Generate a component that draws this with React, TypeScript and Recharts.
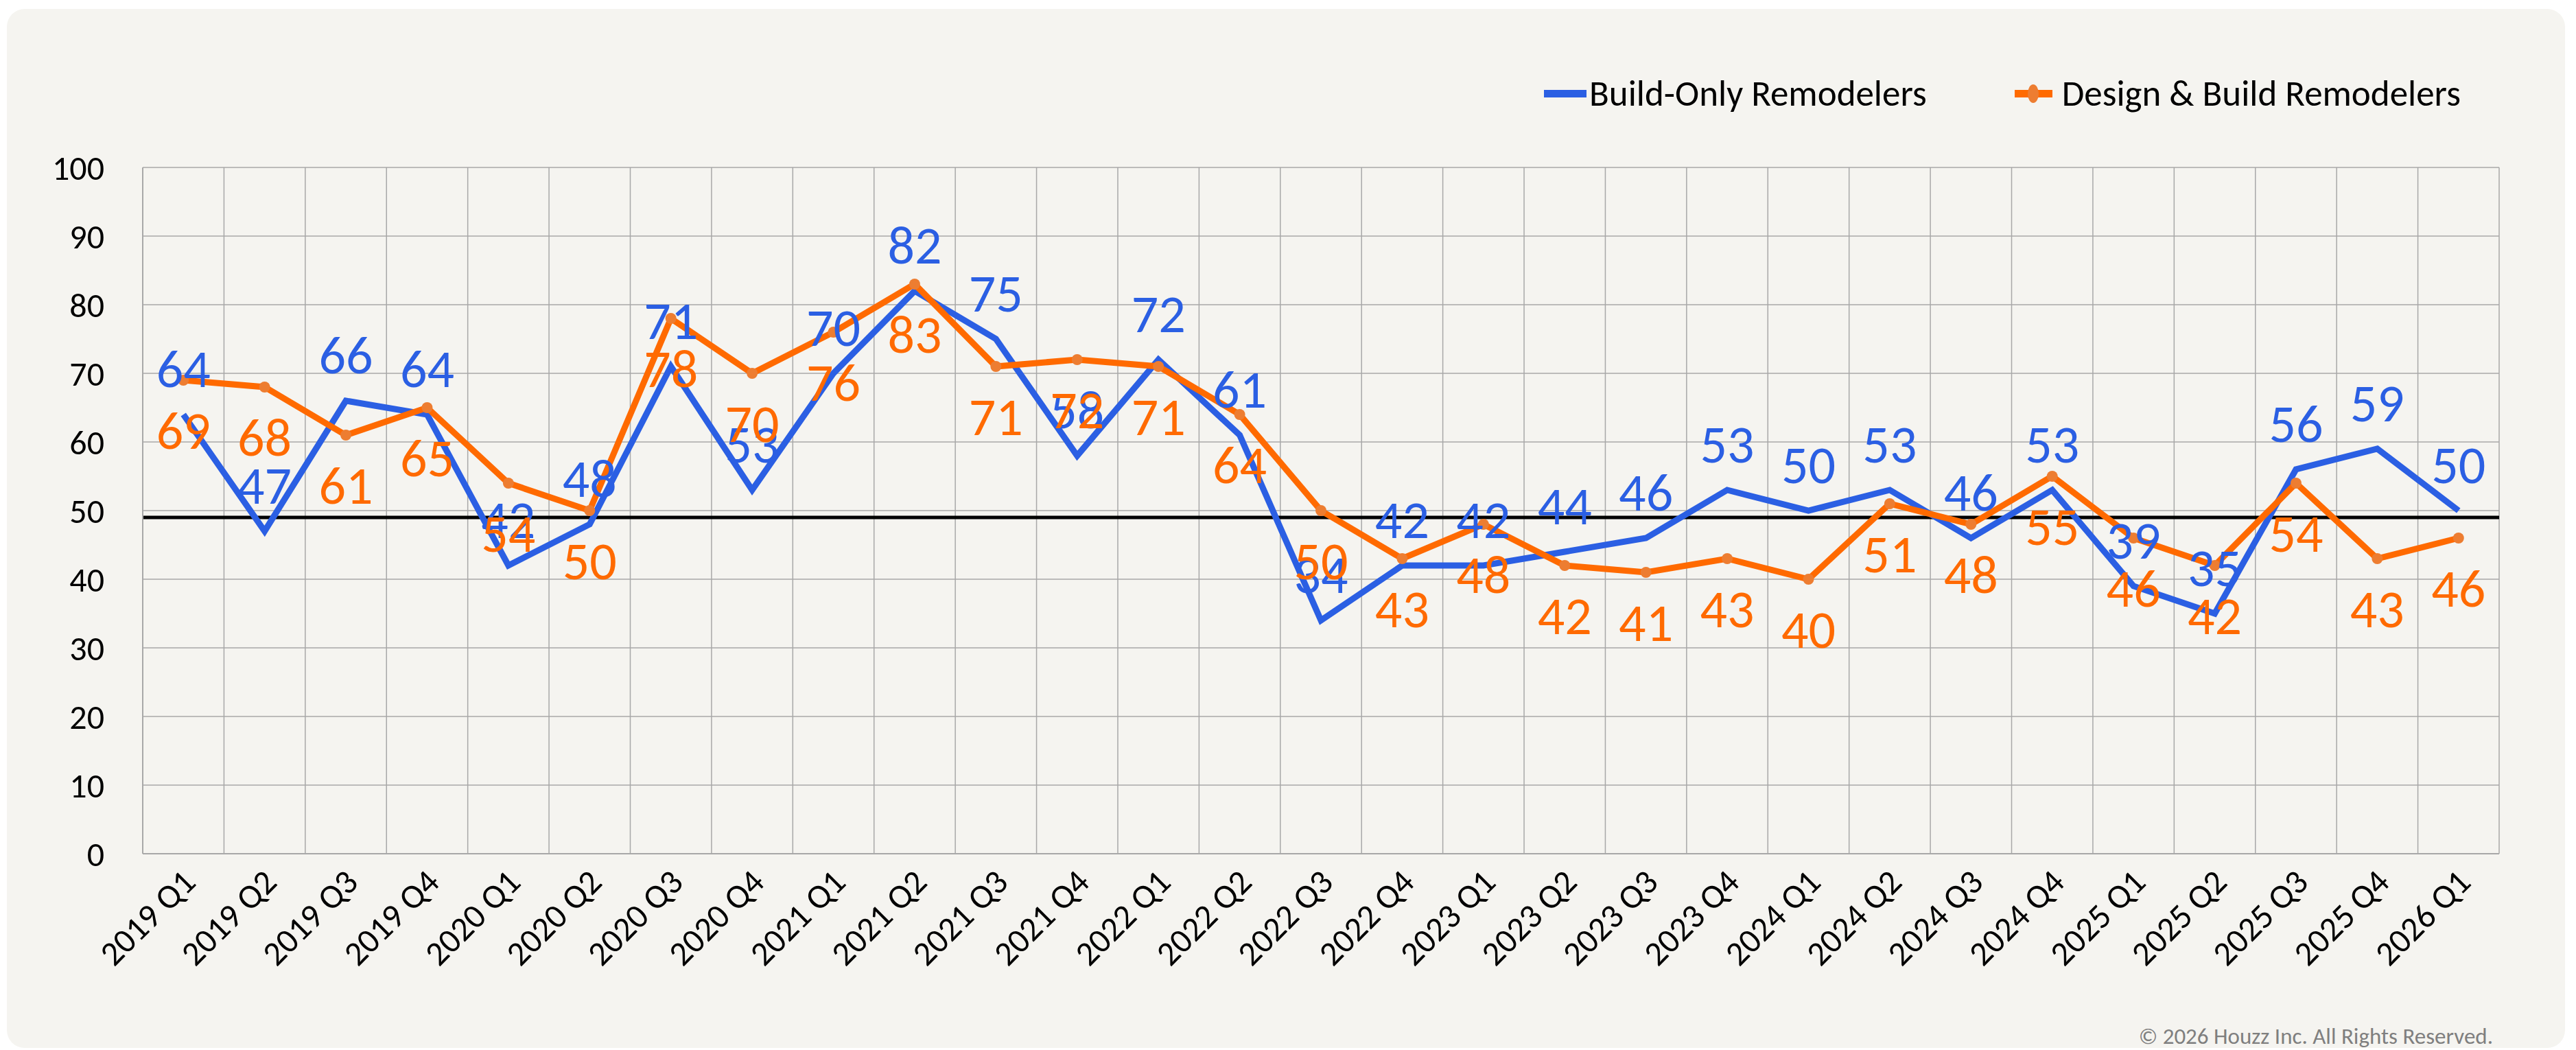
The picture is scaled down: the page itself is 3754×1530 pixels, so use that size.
import React from 'react';
import { LineChart, Line, XAxis, YAxis, CartesianGrid, ReferenceLine, LabelList } from 'recharts';

const quarters = [
  '2019 Q1', '2019 Q2', '2019 Q3', '2019 Q4',
  '2020 Q1', '2020 Q2', '2020 Q3', '2020 Q4',
  '2021 Q1', '2021 Q2', '2021 Q3', '2021 Q4',
  '2022 Q1', '2022 Q2', '2022 Q3', '2022 Q4',
  '2023 Q1', '2023 Q2', '2023 Q3', '2023 Q4',
  '2024 Q1', '2024 Q2', '2024 Q3', '2024 Q4',
  '2025 Q1', '2025 Q2', '2025 Q3', '2025 Q4',
  '2026 Q1',
];
const buildOnly = [64, 47, 66, 64, 42, 48, 71, 53, 70, 82, 75, 58, 72, 61, 34, 42, 42, 44, 46, 53, 50, 53, 46, 53, 39, 35, 56, 59, 50];
const designBuild = [69, 68, 61, 65, 54, 50, 78, 70, 76, 83, 71, 72, 71, 64, 50, 43, 48, 42, 41, 43, 40, 51, 48, 55, 46, 42, 54, 43, 46];
const yTicks = [0, 10, 20, 30, 40, 50, 60, 70, 80, 90, 100];
const referenceValue = 49;

const seriesNames = ['Build-Only Remodelers', 'Design & Build Remodelers'];

const data = quarters.map((q, i) => ({ quarter: q, buildOnly: buildOnly[i], designBuild: designBuild[i] }));

const FONT = "Carlito, Calibri, 'Liberation Sans Narrow', 'Noto Sans', sans-serif";
const BLUE = '#2B5FE3';
const ORANGE = '#FF6A00';
const DOT = '#ED7D31';
const GRID = '#a8a8a8';

const CHART_W = 3754;
const CHART_H = 1530;
const MARGIN = { top: 244, right: 112, bottom: 86, left: 108 };
const Y_AXIS_W = 100;
// half a category on each side, so points sit in the middle of each grid cell
const halfCell = (CHART_W - MARGIN.left - MARGIN.right - Y_AXIS_W) / quarters.length / 2;

const XTick = ({ x, y, payload }: any) => (
  <text
    x={x + 8}
    y={y + 24}
    transform={`rotate(-45, ${x + 8}, ${y + 24})`}
    textAnchor="end"
    dominantBaseline="central"
    fontFamily={FONT}
    fontSize={50}
    fill="#000"
  >
    {payload.value}
  </text>
);

const blueLabel = ({ x, y, value }: any) => (
  <text x={x} y={y - 40} textAnchor="middle" fontFamily={FONT} fontSize={78} fill={BLUE}>
    {value}
  </text>
);

const orangeLabel = ({ x, y, value }: any) => (
  <text x={x} y={y + 100} textAnchor="middle" fontFamily={FONT} fontSize={78} fill={ORANGE}>
    {value}
  </text>
);

const ChartLegend = () => (
  <div
    style={{
      position: 'absolute',
      left: 2250,
      top: 104,
      display: 'flex',
      alignItems: 'center',
      fontFamily: FONT,
      fontSize: 53,
      color: '#000',
      whiteSpace: 'nowrap',
    }}
  >
    <span style={{ display: 'inline-block', flex: 'none', width: 62, height: 11, background: BLUE, marginRight: 4 }} />
    <span>{seriesNames[0]}</span>
    <span
      style={{
        position: 'relative',
        display: 'inline-block',
        flex: 'none',
        width: 55,
        height: 11,
        background: ORANGE,
        marginLeft: 128,
        marginRight: 14,
      }}
    >
      <span style={{ position: 'absolute', left: 19, top: -8, width: 16, height: 27, borderRadius: '50%', background: DOT }} />
    </span>
    <span>{seriesNames[1]}</span>
  </div>
);

export default function App() {
  return (
    <div style={{ position: 'absolute', left: 0, top: 0, width: CHART_W, height: CHART_H, background: '#fff' }}>
      <div
        style={{
          position: 'absolute',
          left: 10,
          top: 13,
          width: 3728,
          height: 1514,
          borderRadius: 26,
          background: '#f5f4f0',
        }}
      />
      <div style={{ position: 'absolute', left: 0, top: 0 }}>
        <LineChart width={CHART_W} height={CHART_H} data={data} margin={MARGIN}>
          <CartesianGrid
            stroke={GRID}
            strokeWidth={1.5}
            verticalCoordinatesGenerator={({ offset }: any) =>
              Array.from({ length: quarters.length + 1 }, (_, i) => offset.left + (offset.width * i) / quarters.length)
            }
          />
          <XAxis
            dataKey="quarter"
            interval={0}
            tickLine={false}
            axisLine={{ stroke: GRID, strokeWidth: 2 }}
            tick={<XTick />}
            height={200}
            padding={{ left: halfCell, right: halfCell }}
          />
          <YAxis
            domain={[0, 100]}
            ticks={yTicks}
            width={Y_AXIS_W}
            tickLine={false}
            axisLine={{ stroke: GRID, strokeWidth: 2 }}
            tickMargin={50}
            tick={{ fontFamily: FONT, fontSize: 50, fill: '#000' }}
          />
          <ReferenceLine y={referenceValue} stroke="#000" strokeWidth={5} />
          <Line
            dataKey="buildOnly"
            name={seriesNames[0]}
            stroke={BLUE}
            strokeWidth={9}
            dot={false}
            isAnimationActive={false}
          >
            <LabelList dataKey="buildOnly" content={blueLabel} />
          </Line>
          <Line
            dataKey="designBuild"
            name={seriesNames[1]}
            stroke={ORANGE}
            strokeWidth={9}
            dot={{ r: 8, fill: DOT, stroke: 'none' }}
            isAnimationActive={false}
          >
            <LabelList dataKey="designBuild" content={orangeLabel} />
          </Line>
        </LineChart>
      </div>
      <ChartLegend />
      <div
        style={{
          position: 'absolute',
          right: CHART_W - 3633,
          top: 1490,
          fontFamily: FONT,
          fontSize: 33,
          color: '#7f7f7f',
          whiteSpace: 'nowrap',
        }}
      >
        © 2026 Houzz Inc. All Rights Reserved.
      </div>
    </div>
  );
}
